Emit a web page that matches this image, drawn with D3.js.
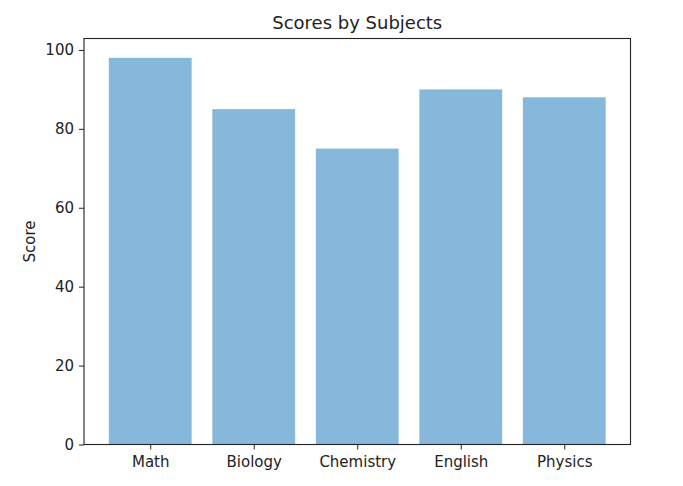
<!DOCTYPE html>
<html>
<head>
<meta charset="utf-8">
<script src="https://cdn.jsdelivr.net/npm/d3@7"></script>
<style>
  body { margin: 0; background: #fff; }
  text { font-family: "DejaVu Sans", sans-serif; fill: #222; }
</style>
</head>
<body>
<div id="chart"></div>
<script>
const subjects = ["Math", "Biology", "Chemistry", "English", "Physics"];
const scores = [98, 85, 75, 90, 88];
const yTicks = [0, 20, 40, 60, 80, 100];

const W = 683, H = 486;
const margin = { top: 38.5, right: 52.5, bottom: 41.5, left: 84 },
      width = W - margin.left - margin.right,
      height = H - margin.top - margin.bottom;

const svg = d3.select("#chart").append("svg")
              .attr("width", W)
              .attr("height", H);

const g = svg.append("g")
             .attr("transform", `translate(${margin.left},${margin.top})`);

// matplotlib-like limits: bars of width 0.8, 5% margins
const x = d3.scaleLinear().domain([-0.64, subjects.length - 1 + 0.64]).range([0, width]);
const y = d3.scaleLinear().domain([0, d3.max(scores) * 1.05]).range([height, 0]);

g.selectAll("rect.bar")
  .data(scores)
  .enter().append("rect")
  .attr("class", "bar")
  .attr("x", (d, i) => x(i - 0.4))
  .attr("width", x(0.8) - x(0))
  .attr("y", d => y(d))
  .attr("height", d => y(0) - y(d))
  .style("fill", "#85b8da");

const yAxis = g.append("g")
  .call(d3.axisLeft(y).tickValues(yTicks).tickSize(5).tickPadding(5));

const xAxis = g.append("g")
  .attr("transform", `translate(0,${height})`)
  .call(d3.axisBottom(x).tickValues(d3.range(subjects.length))
          .tickFormat(i => subjects[i]).tickSize(5).tickPadding(7));

[xAxis, yAxis].forEach(a => {
  a.select(".domain").remove();
  a.selectAll("line").attr("stroke", "#222").attr("stroke-width", 1);
  a.selectAll("text").style("font-size", "15px").style("font-family", "DejaVu Sans, sans-serif").attr("fill", "#222");
});

// frame
g.append("rect")
  .attr("width", width)
  .attr("height", height)
  .attr("fill", "none")
  .attr("stroke", "#222")
  .attr("stroke-width", 1.1);

svg.append("text")
  .attr("x", margin.left + width / 2)
  .attr("y", 29)
  .attr("text-anchor", "middle")
  .style("font-size", "18px")
  .text("Scores by Subjects");

svg.append("text")
  .attr("transform", `translate(35,${margin.top + height / 2}) rotate(-90)`)
  .attr("text-anchor", "middle")
  .style("font-size", "15px")
  .text("Score");
</script>
</body>
</html>
